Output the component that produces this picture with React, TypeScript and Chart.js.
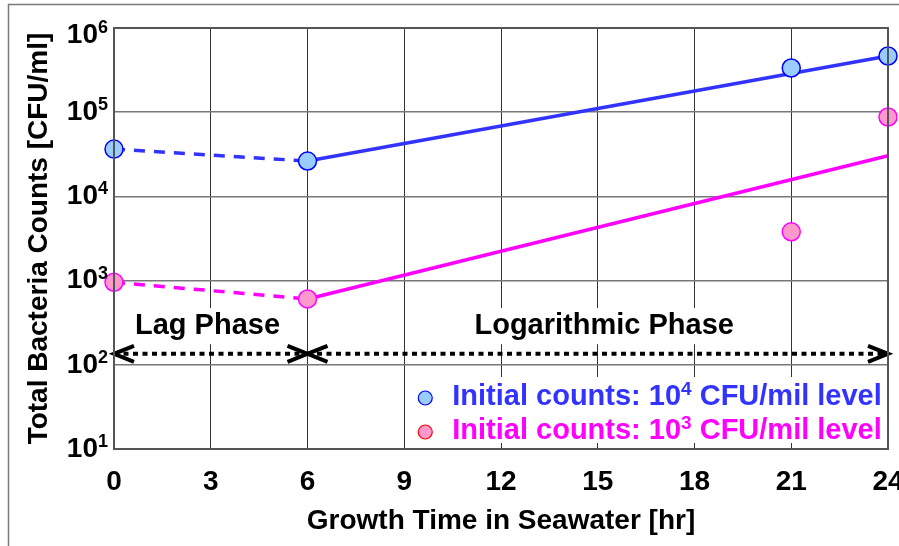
import { useEffect, useRef } from 'react';
import { Chart, registerables } from 'chart.js';

Chart.register(...registerables);

// ---- data ----
const timeHours = [0, 6, 21, 24];
const blueCounts = [36500, 26300, 335000, 465000];
const pinkCounts = [955, 605, 3800, 87700];
const lagHours = [0, 6];
const blueLag = [36500, 26300];
const pinkLag = [955, 605];
const fitHours = [6, 24];
const blueFit = [26300, 465000];
const pinkFit = [605, 30400];
const arrowLevel = 135;
const lagArrowHours = [0, 6];
const logArrowHours = [6, 24];
const phaseLabels = ['Lag Phase', 'Logarithmic Phase'];
const phaseLabelHours = [2.9, 15.2];
const phaseLabelLevel = 288;
const xTickValues = [0, 3, 6, 9, 12, 15, 18, 21, 24];
const yTickValues = [10, 100, 1000, 10000, 100000, 1000000];
const yTickExponents = ['1', '2', '3', '4', '5', '6'];
const legendBlue: [string, boolean][] = [['Initial counts: 10', false], ['4', true], [' CFU/mil level', false]];
const legendPink: [string, boolean][] = [['Initial counts: 10', false], ['3', true], [' CFU/mil level', false]];

const FONT = "'Liberation Sans', Arial, Helvetica, sans-serif";
const BLUE_LINE = '#3333ff';
const PINK_LINE = '#ff00ff';

function setFont(ctx: CanvasRenderingContext2D, size: number) {
  ctx.font = `bold ${size}px ${FONT}`;
}

function richWidth(ctx: CanvasRenderingContext2D, parts: [string, boolean][], size: number) {
  let w = 0;
  for (const [t, sup] of parts) {
    setFont(ctx, sup ? Math.round(size * 0.64) : size);
    w += ctx.measureText(t).width;
  }
  return w;
}

function drawRich(ctx: CanvasRenderingContext2D, x: number, y: number, parts: [string, boolean][], size: number) {
  let cx = x;
  ctx.textAlign = 'left';
  ctx.textBaseline = 'middle';
  for (const [t, sup] of parts) {
    setFont(ctx, sup ? Math.round(size * 0.64) : size);
    ctx.fillText(t, cx, sup ? y - size * 0.25 : y);
    cx += ctx.measureText(t).width;
  }
}

function chevron(ctx: CanvasRenderingContext2D, tipX: number, y: number, dir: number) {
  ctx.beginPath();
  ctx.moveTo(tipX - dir * 20, y - 8);
  ctx.lineTo(tipX, y);
  ctx.lineTo(tipX - dir * 20, y + 8);
  ctx.stroke();
}

const decorPlugin = {
  id: 'decor',
  beforeDraw(chart: any) {
    const ctx = chart.ctx as CanvasRenderingContext2D;
    ctx.save();
    ctx.fillStyle = '#fff';
    ctx.fillRect(0, 0, chart.width, chart.height);
    ctx.restore();
  },
  beforeDatasetsDraw(chart: any) {
    const ctx = chart.ctx as CanvasRenderingContext2D;
    const xs = chart.scales.x;
    const ys = chart.scales.y;
    ctx.save();
    const py = ys.getPixelForValue(phaseLabelLevel);
    phaseLabels.forEach((txt, i) => {
      const px = xs.getPixelForValue(phaseLabelHours[i]);
      setFont(ctx, 29);
      const w = ctx.measureText(txt).width;
      ctx.fillStyle = '#fff';
      ctx.fillRect(px - w / 2 - 3, py - 18, w + 6, 36);
      ctx.fillStyle = '#000';
      ctx.textAlign = 'center';
      ctx.textBaseline = 'middle';
      ctx.fillText(txt, px, py);
    });
    ctx.restore();
  },
  afterDatasetsDraw(chart: any) {
    const ctx = chart.ctx as CanvasRenderingContext2D;
    const xs = chart.scales.x;
    const ys = chart.scales.y;
    const area = chart.chartArea;
    ctx.save();
    ctx.strokeStyle = '#000';
    ctx.lineWidth = 4;
    ctx.lineJoin = 'miter';
    ctx.setLineDash([]);
    const ay = ys.getPixelForValue(arrowLevel);
    chevron(ctx, xs.getPixelForValue(lagArrowHours[0]), ay, -1);
    chevron(ctx, xs.getPixelForValue(lagArrowHours[1]), ay, 1);
    chevron(ctx, xs.getPixelForValue(logArrowHours[0]), ay, -1);
    chevron(ctx, xs.getPixelForValue(logArrowHours[1]), ay, 1);

    const boxLeft = xs.getPixelForValue(9);
    const boxTop = area.bottom - 72;
    const boxBottom = area.bottom - 6;
    ctx.fillStyle = '#fff';
    ctx.fillRect(boxLeft + 1, boxTop, area.right - boxLeft - 1, boxBottom - boxTop);
    const items = [
      { parts: legendBlue, fill: '#99ccff', stroke: '#0000ff', color: BLUE_LINE, y: boxTop + 20 },
      { parts: legendPink, fill: '#ff99cc', stroke: '#ff0000', color: PINK_LINE, y: boxTop + 54 },
    ];
    items.forEach((it) => {
      ctx.beginPath();
      ctx.arc(boxLeft + 21, it.y + 1, 7, 0, Math.PI * 2);
      ctx.fillStyle = it.fill;
      ctx.fill();
      ctx.lineWidth = 1.2;
      ctx.strokeStyle = it.stroke;
      ctx.stroke();
      ctx.fillStyle = it.color;
      drawRich(ctx, boxLeft + 48, it.y, it.parts, 29);
    });

    ctx.strokeStyle = '#555';
    ctx.lineWidth = 2;
    ctx.strokeRect(area.left, area.top, area.right - area.left, area.bottom - area.top);
    ctx.restore();
  },
  afterDraw(chart: any) {
    const ctx = chart.ctx as CanvasRenderingContext2D;
    const ys = chart.scales.y;
    const area = chart.chartArea;
    ctx.save();
    ctx.fillStyle = '#000';
    yTickValues.forEach((v, i) => {
      let y = ys.getPixelForValue(v);
      y = Math.max(y, area.top + 7);
      const parts: [string, boolean][] = [['10', false], [yTickExponents[i], true]];
      const w = richWidth(ctx, parts, 28);
      drawRich(ctx, area.left - 6 - w, y, parts, 28);
    });
    ctx.strokeStyle = '#7a7a7a';
    ctx.lineWidth = 1.5;
    ctx.strokeRect(8.5, 4.5, 3000, 3000);
    ctx.restore();
  },
};

function pts(xv: number[], yv: number[]) {
  return xv.map((x, i) => ({ x, y: yv[i] }));
}

export default function App() {
  const ref = useRef<HTMLCanvasElement | null>(null);
  useEffect(() => {
    if (!ref.current) return;
    const lineBase = { showLine: true, pointRadius: 0, clip: false as any, fill: false, tension: 0 };
    const chart = new Chart(ref.current, {
      type: 'scatter',
      data: {
        datasets: [
          {
            label: 'Initial counts: 10⁴ CFU/mil level',
            data: pts(timeHours, blueCounts),
            pointRadius: 9,
            pointBackgroundColor: '#99ccff',
            pointBorderColor: '#0000ff',
            pointBorderWidth: 1.5,
            showLine: false,
            clip: false as any,
            order: 0,
          },
          {
            label: 'Initial counts: 10³ CFU/mil level',
            data: pts(timeHours, pinkCounts),
            pointRadius: 9,
            pointBackgroundColor: '#ff99cc',
            pointBorderColor: '#ff00ff',
            pointBorderWidth: 1.5,
            showLine: false,
            clip: false as any,
            order: 0,
          },
          { ...lineBase, label: 'blue lag', data: pts(lagHours, blueLag), borderColor: BLUE_LINE, borderWidth: 3.5, borderDash: [11, 9], order: 1 },
          { ...lineBase, label: 'pink lag', data: pts(lagHours, pinkLag), borderColor: PINK_LINE, borderWidth: 3.5, borderDash: [11, 9], order: 1 },
          { ...lineBase, label: 'blue fit', data: pts(fitHours, blueFit), borderColor: BLUE_LINE, borderWidth: 3.5, order: 1 },
          { ...lineBase, label: 'pink fit', data: pts(fitHours, pinkFit), borderColor: PINK_LINE, borderWidth: 3.5, order: 1 },
          {
            ...lineBase,
            label: 'lag arrow',
            data: pts(lagArrowHours, [arrowLevel, arrowLevel]),
            borderColor: '#000',
            borderWidth: 4,
            borderDash: [5, 4.5],
            order: 2,
          },
          {
            ...lineBase,
            label: 'log arrow',
            data: pts(logArrowHours, [arrowLevel, arrowLevel]),
            borderColor: '#000',
            borderWidth: 4,
            borderDash: [5, 4.5],
            order: 2,
          },
        ] as any,
      },
      options: {
        responsive: false,
        animation: false,
        layout: { padding: { left: 0, top: 28, right: 11, bottom: 0 } },
        plugins: { legend: { display: false }, tooltip: { enabled: false } },
        scales: {
          x: {
            type: 'linear',
            min: 0,
            max: 24,
            afterBuildTicks: (s: any) => {
              s.ticks = xTickValues.map((v) => ({ value: v }));
            },
            afterFit: (s: any) => {
              s.height = 97;
              s.paddingLeft = 0;
              s.paddingRight = 0;
            },
            ticks: { font: { family: FONT, size: 28, weight: 'bold' }, color: '#000', padding: 16, maxRotation: 0, autoSkip: false },
            grid: { color: '#333', lineWidth: 1, drawTicks: false },
            border: { display: false },
            title: {
              display: true,
              text: 'Growth Time in Seawater [hr]',
              font: { family: FONT, size: 28, weight: 'bold' },
              color: '#000',
              padding: { top: 0, bottom: 8 },
            },
          },
          y: {
            type: 'logarithmic',
            min: 10,
            max: 1000000,
            afterBuildTicks: (s: any) => {
              s.ticks = yTickValues.map((v) => ({ value: v, major: true }));
            },
            afterFit: (s: any) => {
              s.width = 114;
              s.paddingTop = 0;
              s.paddingBottom = 0;
            },
            ticks: { display: false },
            grid: { color: '#777', lineWidth: 1.5, drawTicks: false },
            border: { display: false },
            title: {
              display: true,
              text: 'Total Bacteria Counts [CFU/ml]',
              font: { family: FONT, size: 28, weight: 'bold' },
              color: '#000',
              padding: { top: 22, bottom: 0 },
            },
          },
        },
      } as any,
      plugins: [decorPlugin],
    });
    return () => chart.destroy();
  }, []);
  return (
    <div style={{ position: 'absolute', left: 0, top: 0, width: 899, height: 546 }}>
      <canvas ref={ref} width={899} height={546} style={{ display: 'block', width: 899, height: 546 }} />
    </div>
  );
}
